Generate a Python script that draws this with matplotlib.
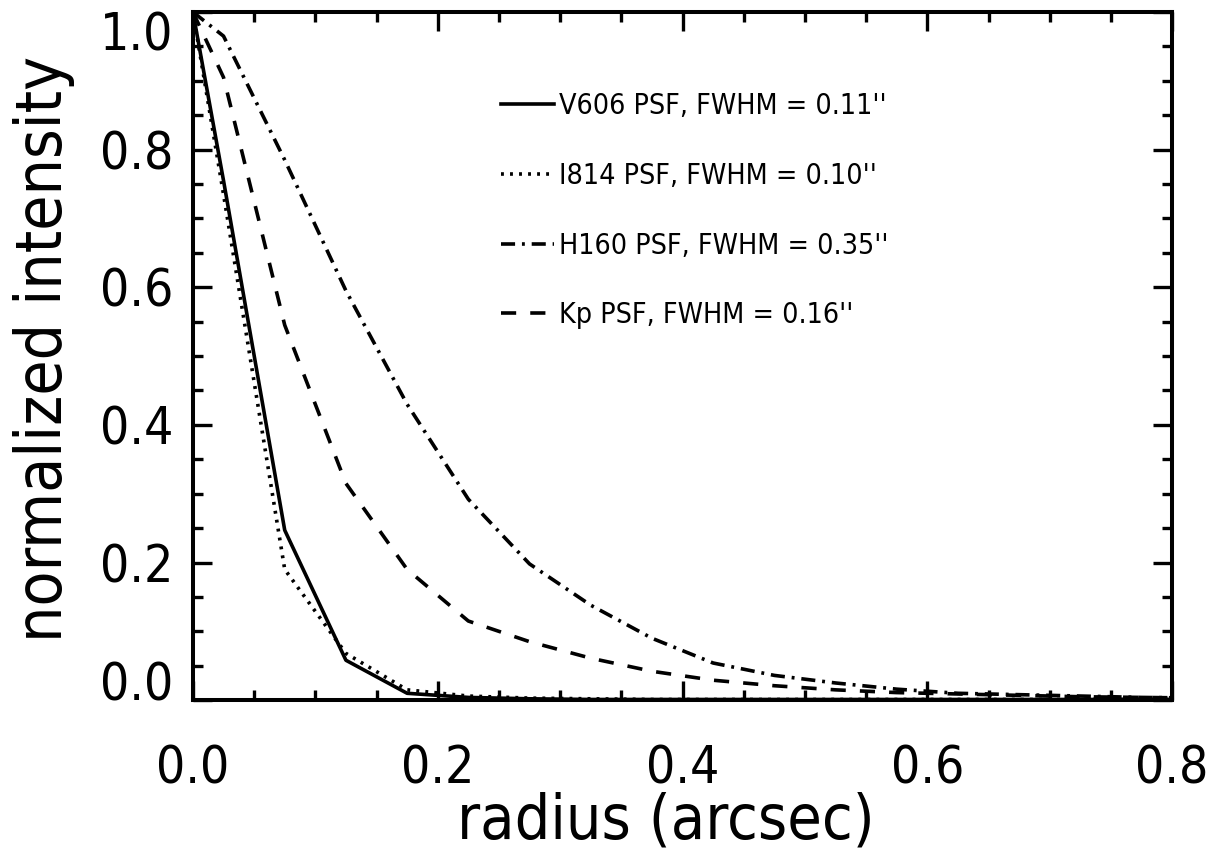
import matplotlib
matplotlib.use('Agg')
import matplotlib.pyplot as plt
from matplotlib.ticker import MultipleLocator

# radial profile samples (arcsec) and normalized PSF intensities
radius = [0.0, 0.025, 0.075, 0.125, 0.175, 0.225, 0.275, 0.325, 0.375,
          0.425, 0.475, 0.525, 0.575, 0.625, 0.675, 0.725, 0.775, 0.825]
v606 = [1.0, 0.755, 0.247, 0.058, 0.010, 0.004, 0.002, 0.001, 0.001,
        0.001, 0.001, 0.001, 0.001, 0.001, 0.001, 0.001, 0.001, 0.001]
i814 = [1.0, 0.735, 0.190, 0.068, 0.015, 0.006, 0.003, 0.002, 0.001,
        0.001, 0.001, 0.001, 0.001, 0.001, 0.001, 0.001, 0.001, 0.001]
h160 = [1.0, 0.965, 0.785, 0.595, 0.430, 0.292, 0.198, 0.138, 0.090,
        0.054, 0.036, 0.025, 0.016, 0.010, 0.008, 0.006, 0.004, 0.003]
kp = [1.0, 0.905, 0.545, 0.315, 0.190, 0.115, 0.085, 0.061, 0.042,
      0.029, 0.021, 0.015, 0.011, 0.009, 0.007, 0.005, 0.004, 0.003]

labels = ["V606 PSF, FWHM = 0.11''", "I814 PSF, FWHM = 0.10''",
          "H160 PSF, FWHM = 0.35''", "Kp PSF, FWHM = 0.16''"]
xticks = [0.0, 0.2, 0.4, 0.6, 0.8]
yticks = [0.0, 0.2, 0.4, 0.6, 0.8, 1.0]

plt.rcParams['font.family'] = ['DejaVu Sans']
plt.rcParams['font.stretch'] = 'condensed'

fig = plt.figure(figsize=(12.21, 8.57), dpi=100)
ax = fig.add_axes([0.158, 0.183, 0.802, 0.803])

lw = 2.6
ax.plot(radius, v606, color='black', lw=lw, ls='-', label=labels[0])
ax.plot(radius, i814, color='black', lw=lw, ls=(0, (0.8, 1.7)), label=labels[1])
ax.plot(radius, h160, color='black', lw=lw, ls=(0, (3.9, 1.9, 0.8, 1.9)), label=labels[2])
ax.plot(radius, kp, color='black', lw=lw, ls=(0, (4.2, 3.9)), label=labels[3])

ax.set_xlim(0, 0.8)
ax.set_ylim(0, 1.0)
ax.set_xticks(xticks)
ax.set_xticklabels(['%.1f' % v for v in xticks])
ax.set_yticks(yticks)
ax.set_yticklabels(['%.1f' % v for v in yticks])
ax.xaxis.set_minor_locator(MultipleLocator(0.05))
ax.yaxis.set_minor_locator(MultipleLocator(0.05))

# IDL keeps the end labels inside the axis range
ylabs = ax.get_yticklabels()
ylabs[0].set_va('baseline')
ylabs[-1].set_va('top')

ax.tick_params(which='both', direction='in', top=True, right=True, width=2.4, color='black')
ax.tick_params(which='major', length=13.5)
ax.tick_params(which='minor', length=7)
ax.tick_params(axis='x', which='major', labelsize=37, pad=32)
ax.tick_params(axis='y', which='major', labelsize=37, pad=14)
for s in ax.spines.values():
    s.set_linewidth(2.9)

ax.set_xlabel('radius (arcsec)', fontsize=45, va='top')
ax.xaxis.set_label_coords(0.483, -0.132)
ax.set_ylabel('normalized intensity', fontsize=46)
ax.yaxis.set_label_coords(-0.12, 0.51)

ax.legend(loc='upper left', bbox_to_anchor=(0.315, 0.884), frameon=False,
          fontsize=20.5, handlelength=1.86, handletextpad=0.18, labelspacing=1.47,
          borderaxespad=0, borderpad=0)

fig.savefig('out.png', dpi=100)
